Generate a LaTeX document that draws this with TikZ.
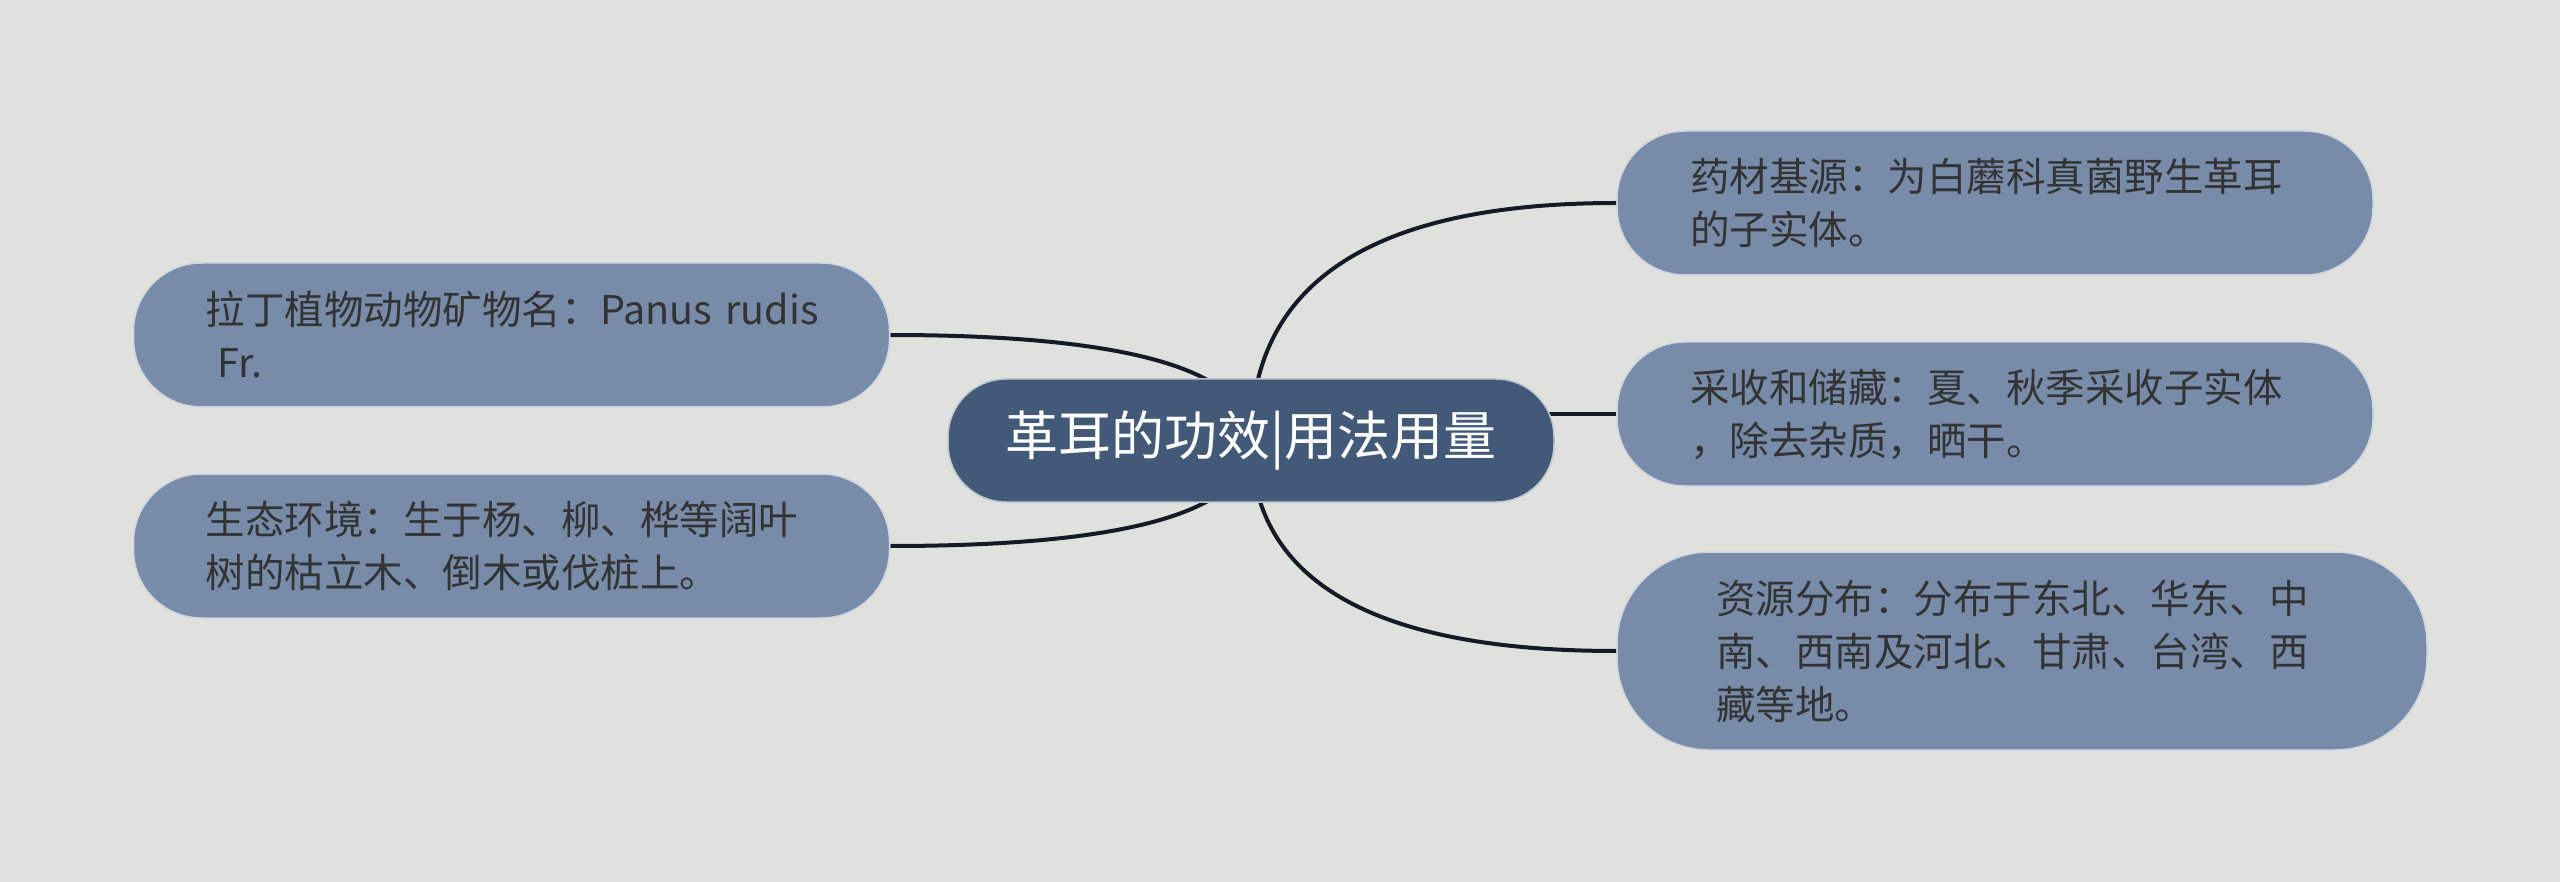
\documentclass[tikz,border=0pt]{standalone}
\usepackage{fontspec}
\newfontfamily\cjk{Noto Sans CJK SC}
\usetikzlibrary{backgrounds}
\definecolor{bgcol}{RGB}{224,225,220}
\definecolor{leafcol}{RGB}{120,139,168}
\definecolor{hubcol}{RGB}{66,90,120}
\definecolor{inkcol}{RGB}{51,51,51}
\definecolor{linkcol}{RGB}{20,27,40}
\begin{document}
\begin{tikzpicture}[x=1pt, y=-1pt,
  leaf/.style={draw=white!65!leafcol, line width=1.5pt, fill=leafcol, rounded corners=68pt, minimum height=144pt, text width=612pt, inner xsep=72pt, inner ysep=0pt, align=left, text=inkcol, font=\cjk\fontsize{39.5}{53}\selectfont},
  hub/.style={draw=white!65!hubcol, line width=1.5pt, fill=hubcol, rounded corners=58pt, minimum width=606pt, minimum height=123pt, text=white, font=\cjk\fontsize{53}{60}\selectfont},
  link/.style={draw=linkcol, line width=4pt}]
  \useasboundingbox (0,0) rectangle (2560,882);
  \begin{scope}[on background layer]
    \fill[bgcol] (0,0) rectangle (2560,882);
  \end{scope}
  \node[hub] (hub) at (1251,440.5) {革耳的功效|用法用量};
  \node[leaf] (lt) at (511.5,335) {拉丁植物动物矿物名：Panus~rudis\\\hspace*{0.3em}Fr.};
  \node[leaf] (lb) at (511.5,546) {生态环境：生于杨、柳、桦等阔叶\\树的枯立木、倒木或伐桩上。};
  \node[leaf, text width=610pt, inner xsep=73pt] (rt) at (1995,203) {药材基源：为白蘑科真菌野生革耳\\的子实体。};
  \node[leaf, text width=610pt, inner xsep=73pt] (rm) at (1995,414) {采收和储藏：夏、秋季采收子实体\\，除去杂质，晒干。};
  \node[leaf, text width=612pt, inner xsep=99pt, minimum height=198pt, rounded corners=92pt] (rb) at (2022,651) {资源分布：分布于东北、华东、中\\南、西南及河北、甘肃、台湾、西\\藏等地。};
  \begin{scope}[on background layer]
    \draw[link] (hub.center) .. controls +(0,-70) and +(241,0) .. (lt.east);
    \draw[link] (hub.center) .. controls +(0,70.5) and +(241,0) .. (lb.east);
    \draw[link] (hub.center) .. controls +(0,-158) and +(-244,0) .. (rt.west);
    \draw[link] (hub.center |- rm.west) -- (rm.west);
    \draw[link] (hub.center) .. controls +(0,140) and +(-244,0) .. (rb.west);
  \end{scope}
\end{tikzpicture}
\end{document}
